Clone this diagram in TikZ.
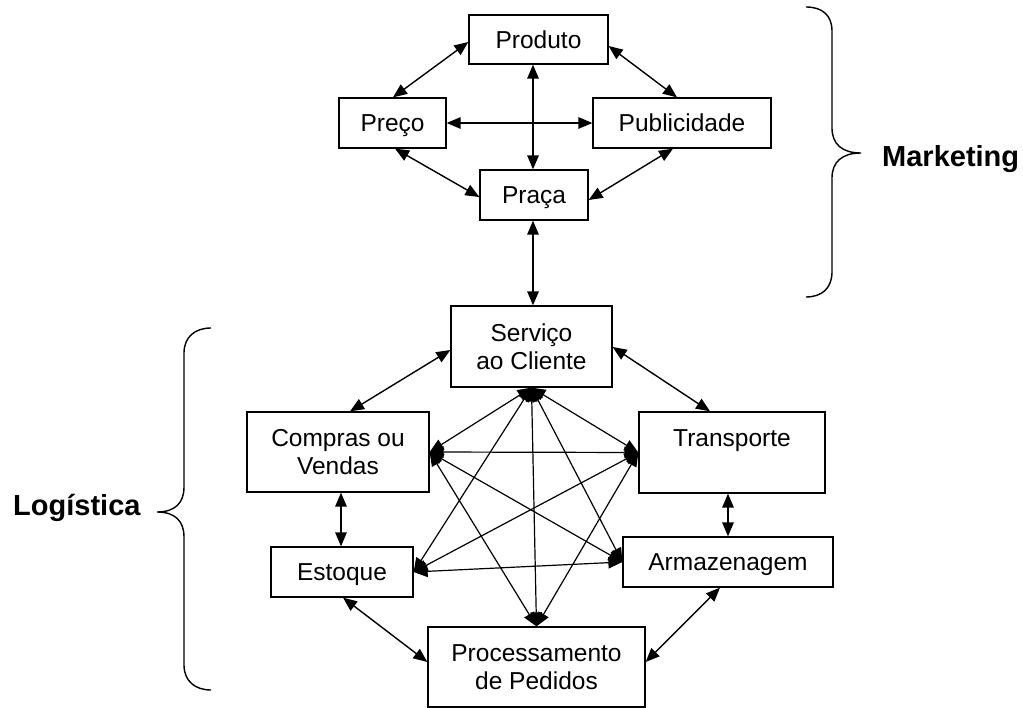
\documentclass[tikz,border=0pt]{standalone}
\usepackage{fontspec}
\setmainfont{Liberation Sans}
\usetikzlibrary{arrows.meta}
\tikzset{
  box/.style={draw, line width=1.3pt, inner sep=0pt, font=\fontsize{24.5}{28}\selectfont, align=center},
  one/.style={text height=22.7pt, text depth=5.2pt},
  arr/.style={{Triangle[length=14pt,width=11.5pt]}-{Triangle[length=14pt,width=11.5pt]}, line width=1.4pt},
  star/.style={{Triangle[length=14pt,width=11.5pt]}-{Triangle[length=14pt,width=11.5pt]}, line width=1.2pt},
  brace/.style={line width=1.4pt},
  grp/.style={font=\fontsize{29}{34}\selectfont\bfseries, inner sep=0pt, anchor=base west}
}
\begin{document}
\begin{tikzpicture}[x=1pt,y=-1pt]
\useasboundingbox (0,0) rectangle (1023,708);
% Marketing
\node[box,one,minimum width=139pt,minimum height=49pt] (prod) at (538.5,39.5) {Produto};
\node[box,one,minimum width=107pt,minimum height=50pt] (preco) at (392.5,123) {Preço};
\node[box,one,minimum width=178pt,minimum height=50pt] (publ) at (682,123) {Publicidade};
\node[box,one,minimum width=108pt,minimum height=50pt] (praca) at (534,195) {Praça};
% Logistica
\node[box,minimum width=161pt,minimum height=81pt] (serv) at (531.5,346.5) {Serviço\\ao Cliente};
\node[box,minimum width=182pt,minimum height=80pt] (comp) at (338,452) {Compras ou\\Vendas};
\node[box,minimum width=186pt,minimum height=81pt] (trans) at (732,452.5) {Transporte\\\mbox{}};
\node[box,one,minimum width=210pt,minimum height=50pt] (arm) at (728,562) {Armazenagem};
\node[box,one,minimum width=142pt,minimum height=50pt] (est) at (342,572) {Estoque};
\node[box,minimum width=217pt,minimum height=80pt] (proc) at (536.5,667) {Processamento\\de Pedidos};
% labels
\node[grp] (mkt) at (882,167) {Marketing};
\node[grp] (log) at (13,515) {Logística};
% braces
\draw[brace] (806,7) .. controls (822,7) and (832,15) .. (832,31) -- (832,128)
  .. controls (832,144) and (842,153) .. (861,153)
  .. controls (842,153) and (832,162) .. (832,178) -- (832,272)
  .. controls (832,288) and (822,297) .. (806,297);
\draw[brace] (211,328) .. controls (195,328) and (184,337) .. (184,353) -- (184,487)
  .. controls (184,503) and (175,512) .. (157,512)
  .. controls (175,512) and (184,521) .. (184,537) -- (184,665)
  .. controls (184,681) and (195,690) .. (211,690);
% marketing arrows
\draw[arr] (preco.north -| 393,0) -- (prod.west |- 0,42);
\draw[arr] (prod.east |- 0,46) -- (publ.north -| 677,0);
\draw[arr] (prod.south -| 533,0) -- (praca.north -| 533,0);
\draw[arr] (preco.east) -- (publ.west);
\draw[arr] (preco.south -| 395,0) -- (praca.west |- 0,197);
\draw[arr] (publ.south -| 673,0) -- (praca.east |- 0,200);
\draw[arr] (praca.south -| 533,0) -- (serv.north -| 533,0);
% logistics outer arrows
\draw[arr] (serv.west |- 0,350) -- (comp.north -| 350,0);
\draw[arr] (serv.east |- 0,347) -- (trans.north -| 710,0);
\draw[arr] (comp.south -| 341,0) -- (est.north -| 341,0);
\draw[arr] (trans.south -| 728,0) -- (arm.north -| 728,0);
\draw[arr] (est.south -| 343,0) -- (proc.west |- 0,662);
\draw[arr] (arm.south -| 720,0) -- (proc.east |- 0,662);
% star
\draw[star] (serv.south) -- (comp.east);
\draw[star] (serv.south) -- (trans.west);
\draw[star] (serv.south) -- (est.east);
\draw[star] (serv.south) -- (arm.west);
\draw[star] (serv.south) -- (proc.north);
\draw[star] (comp.east) -- (trans.west);
\draw[star] (comp.east) -- (arm.west);
\draw[star] (comp.east) -- (proc.north);
\draw[star] (trans.west) -- (est.east);
\draw[star] (trans.west) -- (proc.north);
\draw[star] (est.east) -- (arm.west);
\end{tikzpicture}
\end{document}
